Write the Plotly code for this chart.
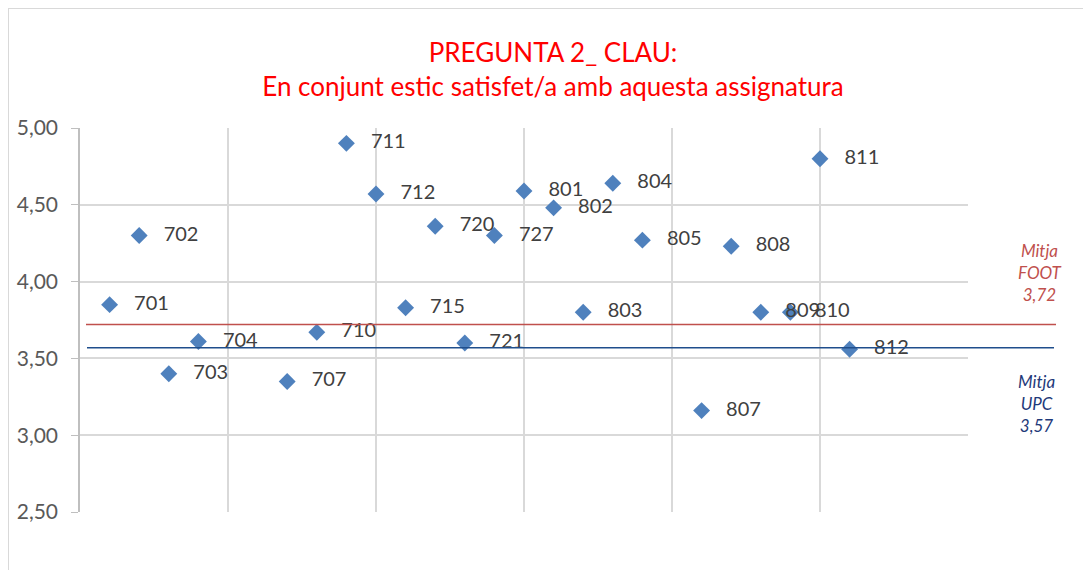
import plotly.graph_objects as go

labels = ["701","702","703","704","707","710","711","712","715","720","721","727",
          "801","802","803","804","805","807","808","809","810","811","812"]
xpos = [1,2,3,4,7,8,9,10,11,12,13,14,15,16,17,18,19,21,22,23,24,25,26]
values = [3.85,4.30,3.40,3.61,3.35,3.67,4.90,4.57,3.83,4.36,3.60,4.30,
          4.59,4.48,3.80,4.64,4.27,3.16,4.23,3.80,3.80,4.80,3.56]
mitja_foot = 3.72
mitja_upc = 3.57

OFF = 8  # page body margin
W, H = 1091 - OFF, 570 - OFF
L, R, T, B = 80 - OFF, 968 - OFF, 128 - OFF, 512 - OFF
pw, ph = R - L, B - T

def px(xpage):
    return (xpage - OFF - L) / pw

def py(ypage):
    return (B - (ypage - OFF)) / ph

FONT = "Lato, Open Sans, sans-serif"

fig = go.Figure()
fig.add_trace(go.Scatter(
    x=xpos, y=values, mode="markers+text",
    text=["   " + s for s in labels], textposition="middle right",
    textfont=dict(family=FONT, size=20, color="#404040"),
    marker=dict(symbol="diamond", size=13, color="#4F81BD"),
    cliponaxis=False, showlegend=False, hoverinfo="x+y"))

shapes = [
    dict(type="line", xref="paper", yref="y", x0=px(86), x1=px(1056),
         y0=mitja_foot, y1=mitja_foot, line=dict(color="#C0504D", width=1.5)),
    dict(type="line", xref="paper", yref="y", x0=px(87), x1=px(1054),
         y0=mitja_upc, y1=mitja_upc, line=dict(color="#1F4E8C", width=1.5)),
    dict(type="rect", xref="paper", yref="paper", x0=px(8), x1=px(1100),
         y0=py(580), y1=py(8), line=dict(color="#D9D9D9", width=2), layer="below"),
]

annotations = [
    dict(xref="paper", yref="paper", x=px(1040), y=py(272), showarrow=False,
         xanchor="center", yanchor="middle",
         text="<i>Mitja<br>FOOT<br>%s</i>" % f"{mitja_foot:.2f}".replace(".", ","),
         font=dict(family=FONT, size=17, color="#C0504D"), align="center"),
    dict(xref="paper", yref="paper", x=px(1036), y=py(403), showarrow=False,
         xanchor="center", yanchor="middle",
         text="<i>Mitja<br>UPC<br>%s</i>" % f"{mitja_upc:.2f}".replace(".", ","),
         font=dict(family=FONT, size=17, color="#1F3A7A"), align="center"),
]

fig.update_layout(
    width=W, height=H,
    margin=dict(l=L, r=W - R, t=T, b=H - B, pad=0, autoexpand=False),
    paper_bgcolor="white", plot_bgcolor="white",
    separators=",.",
    title=dict(text="PREGUNTA 2_ CLAU:<br>En conjunt estic satisfet/a amb aquesta assignatura",
               x=(553 - OFF) / W, xanchor="center", y=1 - (62 - OFF) / H, yanchor="middle",
               font=dict(family=FONT, size=26, color="#FF0000")),
    xaxis=dict(range=[0, 30], dtick=5, tick0=0, showticklabels=False,
               showgrid=True, gridcolor="#D9D9D9", gridwidth=1.5, zeroline=False,
               showline=False, fixedrange=True, automargin=False),
    yaxis=dict(range=[2.5, 5.0], dtick=0.5, tickformat=".2f", automargin=False,
               showgrid=True, gridcolor="#D9D9D9", gridwidth=1.5, zeroline=False,
               showline=True, linecolor="#BFBFBF", linewidth=1.5,
               ticks="outside", ticklen=7, tickcolor="#BFBFBF",
               ticklabelstandoff=9,
               tickfont=dict(family=FONT, size=21, color="#595959")),
    shapes=shapes, annotations=annotations,
)

fig.write_html("out.html")
